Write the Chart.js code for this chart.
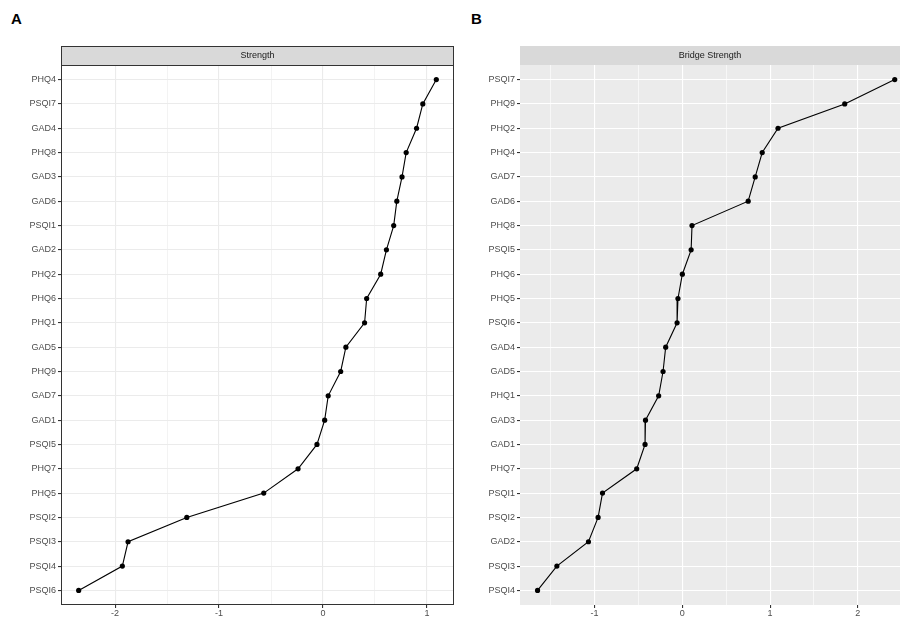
<!DOCTYPE html>
<html>
<head>
<meta charset="utf-8">
<script src="https://cdn.jsdelivr.net/npm/chart.js@4.4.1/dist/chart.umd.min.js"></script>
<style>
  body { margin: 0; background: #fff; font-family: "Liberation Sans", Arial, sans-serif; }
  #wrap { position: relative; width: 900px; height: 620px; overflow: hidden; }
  .panel { position: absolute; top: 0; height: 620px; }
  .tag { position: absolute; top: 10px; font-size: 15px; font-weight: bold; color: #000; }
</style>
</head>
<body>
<div id="wrap">
  <div class="tag" style="left:11px">A</div>
  <div class="tag" style="left:471px">B</div>
  <div class="panel" style="left:0;width:460px"><canvas id="chartA"></canvas></div>
  <div class="panel" style="left:460px;width:440px"><canvas id="chartB"></canvas></div>
</div>
<script>
// Panel A - Strength (urutan dari atas ke bawah)
const itemsA = ['PHQ4', 'PSQI7', 'GAD4', 'PHQ8', 'GAD3', 'GAD6', 'PSQI1', 'GAD2', 'PHQ2', 'PHQ6', 'PHQ1',
                'GAD5', 'PHQ9', 'GAD7', 'GAD1', 'PSQI5', 'PHQ7', 'PHQ5', 'PSQI2', 'PSQI3', 'PSQI4', 'PSQI6'];
const strengthA = [1.09, 0.96, 0.90, 0.80, 0.76, 0.71, 0.68, 0.61, 0.555, 0.42, 0.40,
                   0.22, 0.17, 0.05, 0.016, -0.058, -0.24, -0.57, -1.31, -1.875, -1.93, -2.35];
const majorTicksA = [-2, -1, 0, 1];
const minorTicksA = [-1.5, -0.5, 0.5];

// Panel B - Bridge Strength
const itemsB = ['PSQI7', 'PHQ9', 'PHQ2', 'PHQ4', 'GAD7', 'GAD6', 'PHQ8', 'PSQI5', 'PHQ6', 'PHQ5', 'PSQI6',
                'GAD4', 'GAD5', 'PHQ1', 'GAD3', 'GAD1', 'PHQ7', 'PSQI1', 'PSQI2', 'GAD2', 'PSQI3', 'PSQI4'];
const bridgeB = [2.42, 1.85, 1.09, 0.91, 0.83, 0.75, 0.11, 0.10, 0.0, -0.05, -0.06,
                 -0.19, -0.22, -0.27, -0.42, -0.425, -0.52, -0.91, -0.96, -1.07, -1.43, -1.65];
const majorTicksB = [-1, 0, 1, 2];
const minorTicksB = [-1.5, -0.5, 0.5, 1.5];

const FONT = '"Liberation Sans", Arial, sans-serif';

// latar panel, strip judul, dan bingkai
const panelDeco = {
    id: 'panelDeco',
    beforeDraw(chart, args, o) {
        const a = chart.chartArea, c = chart.ctx;
        c.save();
        c.fillStyle = o.bg;
        c.fillRect(a.left, a.top, a.right - a.left, a.bottom - a.top);
        c.restore();
    },
    afterDraw(chart, args, o) {
        const a = chart.chartArea, c = chart.ctx;
        const h = 19;
        c.save();
        c.fillStyle = '#D9D9D9';
        c.fillRect(a.left, a.top - h, a.right - a.left, h);
        if (o.frame) {
            c.strokeStyle = '#333333';
            c.lineWidth = 1;
            c.strokeRect(a.left + 0.5, a.top - h + 0.5, a.right - a.left - 1, h);
            c.strokeRect(a.left + 0.5, a.top + 0.5, a.right - a.left - 1, a.bottom - a.top - 1);
        }
        c.fillStyle = '#1A1A1A';
        c.font = '9px ' + FONT;
        c.textAlign = 'center';
        c.textBaseline = 'middle';
        c.fillText(o.title, (a.left + a.right) / 2, a.top - h / 2);
        c.restore();
    }
};

function makePanel(id, items, values, cfg) {
    const ctx = document.getElementById(id).getContext('2d');
    const isMajor = v => cfg.major.includes(v);

    new Chart(ctx, {
        type: 'line',
        data: {
            datasets: [{
                data: values.map((v, i) => ({ x: v, y: i })),
                borderColor: '#000',
                backgroundColor: '#000',
                borderWidth: 1.1,
                pointRadius: 2.6,
                pointHoverRadius: 2.6,
                pointBorderWidth: 0,
                tension: 0,
                clip: false
            }]
        },
        options: {
            responsive: true,
            maintainAspectRatio: false,
            animation: false,
            layout: { autoPadding: false, padding: { top: 65, right: cfg.padRight, bottom: 0, left: 0 } },
            plugins: {
                legend: { display: false },
                tooltip: { enabled: false },
                panelDeco: { bg: cfg.bg, frame: cfg.frame, title: cfg.title }
            },
            scales: {
                x: {
                    type: 'linear',
                    min: cfg.min,
                    max: cfg.max,
                    afterBuildTicks: s => {
                        s.ticks = cfg.minor.concat(cfg.major).sort((a, b) => a - b).map(v => ({ value: v }));
                    },
                    afterFit: s => { s.height = 15; },
                    border: { display: false },
                    grid: {
                        color: cfg.gridColor,
                        lineWidth: c => isMajor(c.tick.value) ? cfg.majorW : cfg.minorW,
                        tickColor: c => isMajor(c.tick.value) ? '#333333' : 'rgba(0,0,0,0)',
                        tickLength: 3
                    },
                    ticks: {
                        autoSkip: false,
                        maxRotation: 0,
                        padding: 0,
                        color: '#4D4D4D',
                        font: { family: FONT, size: 9 },
                        callback: v => isMajor(v) ? String(v) : ''
                    }
                },
                y: {
                    type: 'linear',
                    reverse: true,
                    min: -0.6,
                    max: items.length - 1 + 0.6,
                    afterBuildTicks: s => { s.ticks = items.map((_, i) => ({ value: i })); },
                    afterFit: s => { s.width = cfg.axisW; },
                    border: { display: false },
                    grid: {
                        color: cfg.gridColor,
                        lineWidth: cfg.majorW,
                        tickColor: '#333333',
                        tickLength: 3
                    },
                    ticks: {
                        autoSkip: false,
                        padding: 2,
                        color: '#4D4D4D',
                        font: { family: FONT, size: 9 },
                        callback: v => items[v]
                    }
                }
            }
        },
        plugins: [panelDeco]
    });
}

makePanel('chartA', itemsA, strengthA, {
    title: 'Strength', bg: '#FFFFFF', frame: true, gridColor: '#EBEBEB',
    majorW: 1.1, minorW: 0.6, min: -2.52, max: 1.26,
    major: majorTicksA, minor: minorTicksA, axisW: 61, padRight: 6
});

makePanel('chartB', itemsB, bridgeB, {
    title: 'Bridge Strength', bg: '#EBEBEB', frame: false, gridColor: '#FFFFFF',
    majorW: 1.1, minorW: 0.6, min: -1.85, max: 2.48,
    major: majorTicksB, minor: minorTicksB, axisW: 60, padRight: 0
});
</script>
</body>
</html>
